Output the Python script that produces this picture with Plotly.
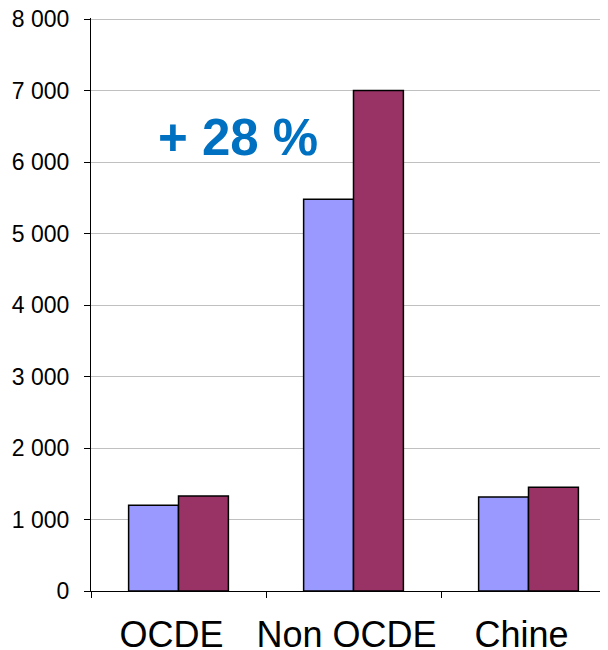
import plotly.graph_objects as go

categories = ["OCDE", "Non OCDE", "Chine"]
series_a = [1200, 5480, 1315]
series_b = [1330, 7000, 1450]
y_ticks = [0, 1000, 2000, 3000, 4000, 5000, 6000, 7000, 8000]
annotation_text = "+ 28 %"

fig = go.Figure()
fig.add_trace(go.Bar(x=categories, y=series_a, marker=dict(color="#9999FF", line=dict(color="black", width=1.5))))
fig.add_trace(go.Bar(x=categories, y=series_b, marker=dict(color="#993366", line=dict(color="black", width=1.5))))

fig.update_layout(
    width=608, height=650,
    margin=dict(l=83, r=0, t=10, b=67),
    paper_bgcolor="white", plot_bgcolor="white",
    barmode="group", bargap=0.43, bargroupgap=0,
    showlegend=False,
    separators=", ",
    font=dict(family="Liberation Sans, Arial, sans-serif", color="black"),
    xaxis=dict(
        range=[-0.5, 2.5], showline=True, linecolor="black", linewidth=1,
        ticks="outside", tickson="boundaries", ticklen=6, tickcolor="black",
        tickfont=dict(size=36), tickangle=0, showgrid=False,
        ticklabelstandoff=12, ticklabelshift=-7,
        automargin=False,
    ),
    yaxis=dict(
        range=[0, 8015], tickvals=y_ticks, tickformat=",d",
        showline=True, linecolor="black", linewidth=1,
        ticks="outside", ticklen=6, tickcolor="black",
        tickfont=dict(size=23), showgrid=True, gridcolor="#C0C0C0", gridwidth=1.3,
        zeroline=False, automargin=False, ticklabelstandoff=10,
        ticklabeloverflow="allow",
    ),
    annotations=[dict(
        text="<b>" + annotation_text + "</b>", xref="paper", yref="paper",
        x=0.28, y=0.792, xanchor="center", yanchor="middle", showarrow=False,
        font=dict(size=51, color="#0070C0", family="Liberation Sans, Arial, sans-serif"),
    )],
)

fig.write_html("out.html")
